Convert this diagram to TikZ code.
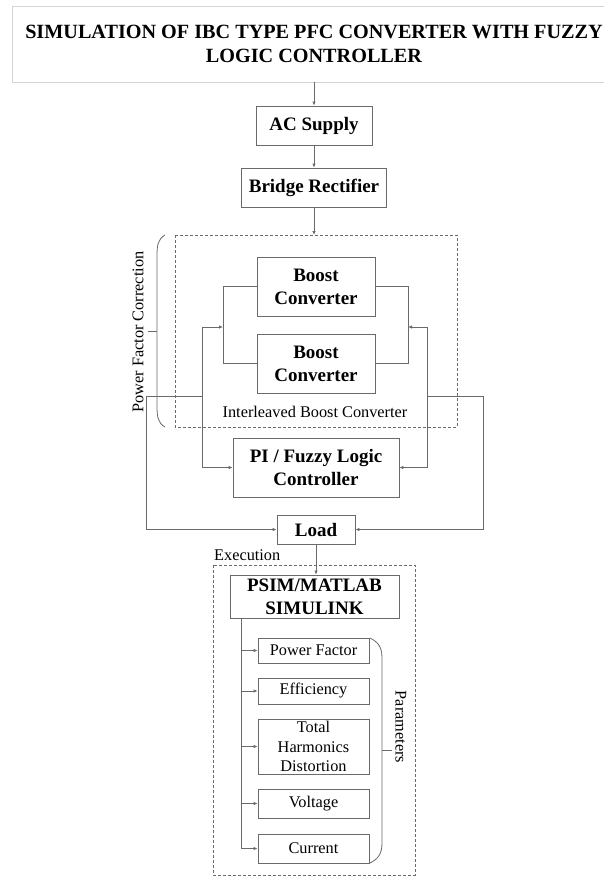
\documentclass[tikz,border=0pt]{standalone}
\usepackage{fontspec}
\setmainfont{Liberation Serif}
\usetikzlibrary{arrows.meta}

\definecolor{linegray}{HTML}{6A6A6A}
\definecolor{titlegray}{HTML}{D4D4D4}

\tikzset{
  blk/.style={draw=linegray,line width=0.8pt,inner sep=0pt,align=center,
    font=\fontsize{19}{23}\selectfont\bfseries},
  parbox/.style={draw=linegray,line width=0.8pt,inner sep=0pt,align=center,
    minimum width=111pt,font=\fontsize{16.3}{19.5}\selectfont},
  wire/.style={draw=linegray,line width=0.8pt},
  feed/.style={wire,-{Latex[length=4pt,width=3.5pt]}},
  dashbox/.style={draw=linegray,line width=0.7pt,dash pattern=on 3pt off 2pt},
  lbl/.style={font=\fontsize{16.3}{19.5}\selectfont,inner sep=0pt}
}

\begin{document}
\begin{tikzpicture}[x=1pt,y=-1pt]
      \useasboundingbox (0,0) rectangle (604,876);
      \clip (0,0) rectangle (604,876);

      % title
      \node[draw=titlegray,line width=0.8pt,minimum width=604pt,minimum height=76pt,inner sep=0pt,
        align=center,font=\fontsize{20.2}{24}\selectfont\bfseries] (title) at (314,44)
        {SIMULATION OF IBC TYPE PFC CONVERTER WITH FUZZY\\LOGIC CONTROLLER};

      \node[blk,minimum width=116pt,minimum height=39pt] (ac) at (314,125.5) {AC Supply};
      \node[blk,minimum width=145pt,minimum height=39pt] (rect) at (314,187.5) {Bridge Rectifier};

      % interleaved boost converter
      \draw[dashbox] (175,235) rectangle (457,427);
      \coordinate (ibctop) at (314,235);
      \node[blk,minimum width=118pt,minimum height=59pt] (boost1) at (316,286.5) {Boost\\Converter};
      \node[blk,minimum width=118pt,minimum height=59pt] (boost2) at (316,363.5) {Boost\\Converter};
      \node[lbl] (ibclabel) at (315,412) {Interleaved Boost Converter};

      \coordinate (l1) at (223,286.5);
      \coordinate (l2) at (223,363.5);
      \coordinate (r1) at (408,286.5);
      \coordinate (r2) at (408,363.5);
      \coordinate (lin) at (223,327);
      \coordinate (rin) at (408,327);

      \draw[wire] (boost1.west) -- (l1) -- (l2) -- (boost2.west);
      \draw[wire] (boost1.east) -- (r1) -- (r2) -- (boost2.east);

      % controller and load
      \node[blk,minimum width=166pt,minimum height=59pt] (ctrl) at (316,467.5) {PI / Fuzzy Logic\\Controller};
      \node[blk,minimum width=78pt,minimum height=29pt] (load) at (316,529.5) {Load};

      \coordinate (fl1) at (202,327);
      \coordinate (fl2) at (202,467.5);
      \coordinate (fr1) at (427,327);
      \coordinate (fr2) at (427,467.5);
      \coordinate (fl3) at (202,396);
      \coordinate (fr3) at (427,396);
      \coordinate (ol1) at (146,396);
      \coordinate (ol2) at (146,529.5);
      \coordinate (or1) at (483.5,396);
      \coordinate (or2) at (483.5,529.5);

      \draw[feed] (fl2) -- (fl1) -- (lin);
      \draw[feed] (fl1) -- (fl2) -- (ctrl.west);
      \draw[feed] (fr2) -- (fr1) -- (rin);
      \draw[feed] (fr1) -- (fr2) -- (ctrl.east);
      \draw[feed] (fl3) -- (ol1) -- (ol2) -- (load.west);
      \draw[feed] (fr3) -- (or1) -- (or2) -- (load.east);

      \draw[feed] (title.south -| ac.north) -- (ac.north);
      \draw[feed] (ac) -- (rect);
      \draw[feed] (rect.south) -- (ibctop);

      % power factor correction brace
      \draw[wire] (165,235) .. controls (158,239) and (157,245) .. (157,256) -- (157,406)
        .. controls (157,417) and (158,423) .. (165,427);
      \draw[wire] (157,331) -- (148,331);
      \node[lbl,rotate=90] (pfc) at (138,332) {Power Factor Correction};

      % execution
      \draw[dashbox] (213,565) rectangle (415,875);
      \node[lbl,anchor=west] (exec) at (214,555) {Execution};
      \node[blk,minimum width=169pt,minimum height=43pt] (psim) at (314.5,596.5) {PSIM/MATLAB\\SIMULINK};
      \draw[feed] (load.south) -- (load.south |- psim.north);

      \node[parbox,minimum height=25pt] (pf) at (313.5,650.5) {Power Factor};
      \node[parbox,minimum height=26pt] (eff) at (313.5,691) {Efficiency};
      \node[parbox,minimum height=55pt] (thd) at (313.5,746.5) {Total\\Harmonics\\Distortion};
      \node[parbox,minimum height=29pt] (volt) at (313.5,803.5) {Voltage};
      \node[parbox,minimum height=29pt] (cur) at (313.5,848.5) {Current};

      \coordinate (trunk) at (241,618);
      \draw[wire] (trunk) -- (241,848.5);
      \foreach \p in {pf,eff,thd,volt,cur}
        \draw[feed] (241,0 |- \p.west) -- (\p.west);

      % parameters brace
      \draw[wire] (370,638) .. controls (378,642) and (382,647) .. (382,658) -- (382,843)
        .. controls (382,854) and (378,859) .. (370,863);
      \draw[wire] (382,750) -- (392,750);
      \node[lbl,rotate=-90] (params) at (401,727) {Parameters};
    \end{tikzpicture}
\end{document}
